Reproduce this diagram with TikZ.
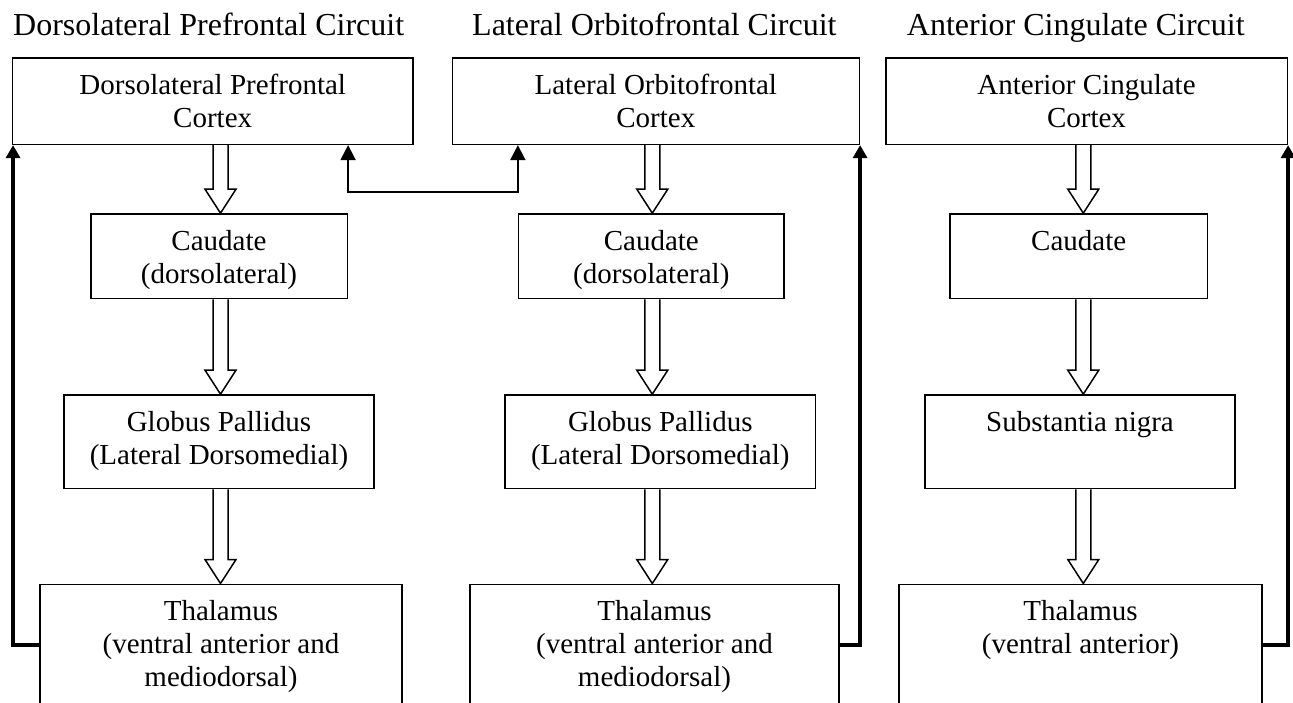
\documentclass[tikz,border=0pt]{standalone}
\usepackage{fontspec}
\setmainfont{Liberation Serif}
\usepackage{tikz}
\usetikzlibrary{%
	positioning,%
	arrows.meta%
}
\tikzstyle{box}=[draw, line width=1.6pt, inner sep=0pt]
\tikzstyle{txt}=[align=center, inner sep=0pt, font=\fontsize{29}{33}\selectfont]
\tikzstyle{title}=[anchor=base west, inner sep=0pt, font=\fontsize{32}{38}\selectfont]
\tikzstyle{fat}=[draw, line width=1.5pt]
\tikzstyle{link}=[draw, line width=1.8pt, {Triangle[length=15pt,width=15pt]}-{Triangle[length=15pt,width=15pt]}]
\tikzstyle{feedback}=[draw, line width=3.6pt, -{Triangle[length=13pt,width=14pt]}]

\begin{document}
\begin{tikzpicture}[x=1pt, y=-1pt]
		\useasboundingbox (0,0) rectangle (1293,702);

		% Titles
		\node[title] (title1) at (13,35) {Dorsolateral Prefrontal Circuit};
		\node[title] (title2) at (472,35) {Lateral Orbitofrontal Circuit};
		\node[title] (title3) at (906.7,35) {Anterior Cingulate Circuit};

		% Column axes
		\coordinate (ax1) at (220.5,0);
		\coordinate (ax2) at (652.3,0);
		\coordinate (ax3) at (1083.3,0);

		% Boxes
		\node[box, minimum width=400.7pt, minimum height=86.6pt] (dlpfc) at (212.7,101) {};
		\node[box, minimum width=407pt, minimum height=86.6pt] (lofc) at (655.8,101) {};
		\node[box, minimum width=401.6pt, minimum height=86.6pt] (acc) at (1086.5,101) {};

		\node[box, minimum width=256.6pt, minimum height=84.7pt] (caud1) at (219,256.3) {};
		\node[box, minimum width=265.3pt, minimum height=84.7pt] (caud2) at (651.3,256.3) {};
		\node[box, minimum width=257.3pt, minimum height=84.7pt] (caud3) at (1078.7,256.3) {};

		\node[box, minimum width=310pt, minimum height=93.7pt] (gp1) at (219,441.8) {};
		\node[box, minimum width=310.7pt, minimum height=93.7pt] (gp2) at (660.3,441.8) {};
		\node[box, minimum width=310pt, minimum height=93.7pt] (sn) at (1080,441.8) {};

		\node[box, minimum width=362pt, minimum height=121.4pt] (thal1) at (221,645) {};
		\node[box, minimum width=369pt, minimum height=121.4pt] (thal2) at (654.5,645) {};
		\node[box, minimum width=363pt, minimum height=121.4pt] (thal3) at (1080.5,645) {};

		% Box texts
		\node[txt, below=17pt of dlpfc.north] (dlpfcT) {Dorsolateral Prefrontal\\Cortex};
		\node[txt, below=17pt of lofc.north] (lofcT) {Lateral Orbitofrontal\\Cortex};
		\node[txt, below=17pt of acc.north] (accT) {Anterior Cingulate\\Cortex};
		\node[txt, below=17pt of caud1.north] (caud1T) {Caudate\\(dorsolateral)};
		\node[txt, below=17pt of caud2.north] (caud2T) {Caudate\\(dorsolateral)};
		\node[txt, below=17pt of caud3.north] (caud3T) {Caudate};
		\node[txt, below=17pt of gp1.north] (gp1T) {Globus Pallidus\\(Lateral Dorsomedial)};
		\node[txt, below=17pt of gp2.north] (gp2T) {Globus Pallidus\\(Lateral Dorsomedial)};
		\node[txt, below=17pt of sn.north] (snT) {Substantia nigra};
		\node[txt, below=17pt of thal1.north] (thal1T) {Thalamus\\(ventral anterior and\\mediodorsal)};
		\node[txt, below=17pt of thal2.north] (thal2T) {Thalamus\\(ventral anterior and\\mediodorsal)};
		\node[txt, below=17pt of thal3.north] (thal3T) {Thalamus\\(ventral anterior)};

		% Hollow arrows
	\foreach \from/\to/\ax in {dlpfc/caud1/ax1, caud1/gp1/ax1, gp1/thal1/ax1, lofc/caud2/ax2, caud2/gp2/ax2, gp2/thal2/ax2, acc/caud3/ax3, caud3/sn/ax3, sn/thal3/ax3}{
		\coordinate (top) at (\from.south -| \ax);
		\coordinate (tip) at (\to.north -| \ax);
		\draw[fat] ([xshift=-7.5pt]top) -- ([xshift=-7.5pt,yshift=24pt]tip) -- ([xshift=-15.5pt,yshift=24pt]tip) -- (tip) -- ([xshift=15.5pt,yshift=24pt]tip) -- ([xshift=7.5pt,yshift=24pt]tip) -- ([xshift=7.5pt]top);
	}

		% Cortex link
		\draw[link] (caud1.north east |- dlpfc.south) -- ++(0,46.7) -| (caud2.north west |- lofc.south);

		% Feedback loops
		\draw[feedback] (thal1.west) -| ([xshift=1.5pt]dlpfc.south west);
		\draw[feedback] (thal2.east) -| (lofc.south east);
		\draw[feedback] (thal3.east) -| (acc.south east);
	\end{tikzpicture}
\end{document}
